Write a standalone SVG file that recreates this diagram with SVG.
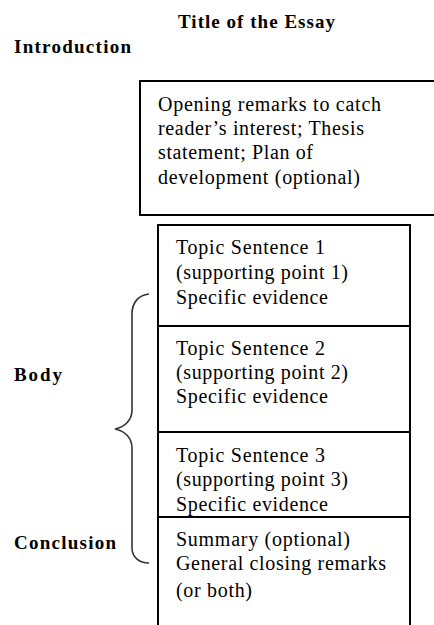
<svg xmlns="http://www.w3.org/2000/svg" width="434" height="625" viewBox="0 0 434 625">
<style>
.box{fill:#fff;stroke:#000;stroke-width:2}
.t{font-size:20px;fill:#000}
.b{font-size:19px;font-weight:bold;fill:#000}
.brace{fill:none;stroke:#333;stroke-width:1.6}
</style>
<rect width="434" height="625" fill="#fff"/>
<g font-family="'Liberation Serif', 'DejaVu Serif', serif">
<g id="title"><text class="b" x="178" y="28" font-size="20" textLength="157" lengthAdjust="spacing">Title of the Essay</text></g>
<g id="label-introduction"><text class="b" x="14" y="53" textLength="117" lengthAdjust="spacing">Introduction</text></g>
<g id="label-body"><text class="b" x="14" y="381" textLength="48" lengthAdjust="spacing">Body</text></g>
<g id="label-conclusion"><text class="b" x="14" y="549" textLength="102" lengthAdjust="spacing">Conclusion</text></g>
<g id="intro-box">
<rect class="box" x="140" y="81" width="310" height="134"/>
<text class="t" x="158" y="111" textLength="223" lengthAdjust="spacing">Opening remarks to catch</text>
<text class="t" x="158" y="135" textLength="206" lengthAdjust="spacing">reader’s interest; Thesis</text>
<text class="t" x="158" y="159" textLength="155" lengthAdjust="spacing">statement; Plan of</text>
<text class="t" x="158" y="184" textLength="202" lengthAdjust="spacing">development (optional)</text>
</g>
<g id="topic1">
<rect class="box" x="158" y="225" width="252" height="101"/>
<text class="t" x="176" y="254" textLength="149" lengthAdjust="spacing">Topic Sentence 1</text>
<text class="t" x="176" y="279" textLength="172" lengthAdjust="spacing">(supporting point 1)</text>
<text class="t" x="176" y="304" textLength="152" lengthAdjust="spacing">Specific evidence</text>
</g>
<g id="topic2">
<rect class="box" x="158" y="326" width="252" height="106"/>
<text class="t" x="176" y="355" textLength="149" lengthAdjust="spacing">Topic Sentence 2</text>
<text class="t" x="176" y="379" textLength="172" lengthAdjust="spacing">(supporting point 2)</text>
<text class="t" x="176" y="403" textLength="152" lengthAdjust="spacing">Specific evidence</text>
</g>
<g id="topic3">
<rect class="box" x="158" y="432" width="252" height="85"/>
<text class="t" x="176" y="462" textLength="149" lengthAdjust="spacing">Topic Sentence 3</text>
<text class="t" x="176" y="486" textLength="172" lengthAdjust="spacing">(supporting point 3)</text>
<text class="t" x="176" y="511" textLength="152" lengthAdjust="spacing">Specific evidence</text>
</g>
<g id="conclusion-box">
<rect class="box" x="158" y="517" width="252" height="120"/>
<text class="t" x="176" y="546" textLength="174" lengthAdjust="spacing">Summary (optional)</text>
<text class="t" x="176" y="570" textLength="210" lengthAdjust="spacing">General closing remarks</text>
<text class="t" x="176" y="597" textLength="76" lengthAdjust="spacing">(or both)</text>
</g>
</g>
<g id="connectors">
<path class="brace" d="M149,294 C139,295 132,302 132,314 L132,410 C132,420 125,427 115,429 C125,431 132,438 132,448 L132,548 C132,557 139,563 149,563"/>
</g>
</svg>
